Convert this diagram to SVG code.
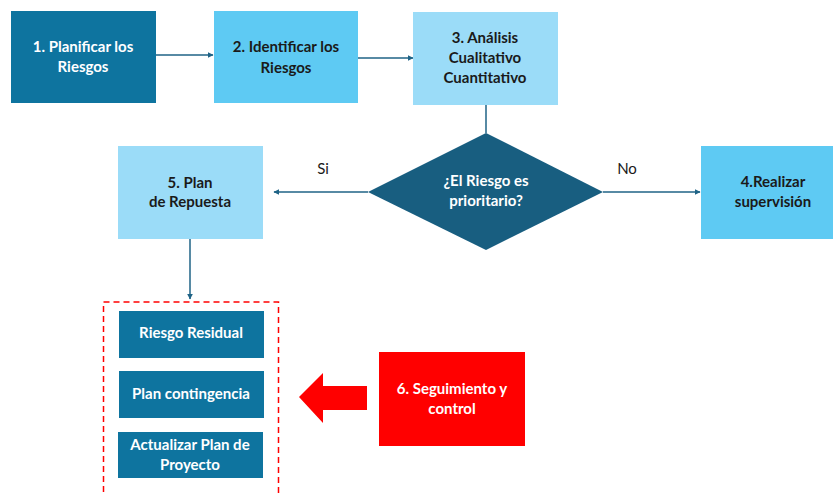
<svg xmlns="http://www.w3.org/2000/svg" width="833" height="496" viewBox="0 0 833 496">
  <style>
    .t { font-family: Lato, "Liberation Sans", sans-serif; font-weight: bold; font-size: 15px; text-anchor: middle; }
    .w { fill: #ffffff; }
    .d { fill: #1a1a1a; }
    .lbl { font-family: Lato, "Liberation Sans", sans-serif; font-size: 15px; fill: #1a1a1a; text-anchor: middle; }
    .dark { fill: #0e749f; }
    .mid { fill: #5ecaf3; }
    .light { fill: #9bdcf8; }
    .conn { stroke: #1f6386; stroke-width: 1.5; fill: none; }
  </style>
  <defs>
    <marker id="arr" viewBox="0 0 10 10" refX="9" refY="5" markerWidth="6" markerHeight="6" markerUnits="userSpaceOnUse" orient="auto">
      <path d="M0,0 L10,5 L0,10 z" fill="#1f6386"/>
    </marker>
  </defs>

  <rect width="833" height="496" fill="#ffffff"/>

  <g id="connectors">
    <line class="conn" x1="156" y1="55" x2="213" y2="55" marker-end="url(#arr)"/>
    <line class="conn" x1="358" y1="58" x2="413" y2="58" marker-end="url(#arr)"/>
    <line class="conn" x1="486" y1="105" x2="486" y2="133"/>
    <line class="conn" x1="368" y1="192" x2="274" y2="192" marker-end="url(#arr)"/>
    <line class="conn" x1="603" y1="192" x2="700" y2="192" marker-end="url(#arr)"/>
    <line class="conn" x1="190" y1="239" x2="190" y2="299" marker-end="url(#arr)"/>
    <text class="lbl" x="323" y="174">Si</text>
    <text class="lbl" x="627" y="174">No</text>
  </g>

  <g id="n1">
    <rect class="dark" x="11" y="11" width="145" height="92"/>
    <text class="t w" x="83" y="52">1. Planificar los</text>
    <text class="t w" x="83" y="72">Riesgos</text>
  </g>

  <g id="n2">
    <rect class="mid" x="214" y="11" width="144" height="92"/>
    <text class="t d" x="286" y="52">2. Identificar los</text>
    <text class="t d" x="286" y="73">Riesgos</text>
  </g>

  <g id="n3">
    <rect class="light" x="413" y="12" width="145" height="93"/>
    <text class="t d" x="485" y="43">3. Análisis</text>
    <text class="t d" x="485" y="63">Cualitativo</text>
    <text class="t d" x="485" y="83">Cuantitativo</text>
  </g>

  <g id="decision">
    <polygon points="486,133 603,192 486,250 368,192" fill="#185e80"/>
    <text class="t w" x="486" y="186">¿El Riesgo es</text>
    <text class="t w" x="486" y="206">prioritario?</text>
  </g>

  <g id="n5">
    <rect class="light" x="118" y="146" width="145" height="93"/>
    <text class="t d" x="190" y="188">5. Plan</text>
    <text class="t d" x="190" y="207">de Repuesta</text>
  </g>

  <g id="n4">
    <rect class="mid" x="701" y="146" width="132" height="93"/>
    <text class="t d" x="773" y="187">4.Realizar</text>
    <text class="t d" x="773" y="207">supervisión</text>
  </g>

  <g id="responses">
    <rect x="103.5" y="302" width="175" height="210" fill="none" stroke="#ff0000" stroke-width="1.5" stroke-dasharray="6,4"/>
    <g id="residual">
      <rect class="dark" x="119" y="311" width="145" height="47"/>
      <text class="t w" x="191" y="338">Riesgo Residual</text>
    </g>
    <g id="contingencia">
      <rect class="dark" x="119" y="371" width="145" height="47"/>
      <text class="t w" x="191" y="399">Plan contingencia</text>
    </g>
    <g id="actualizar">
      <rect class="dark" x="118" y="432" width="145" height="46"/>
      <text class="t w" x="190" y="450">Actualizar Plan de</text>
      <text class="t w" x="190" y="470">Proyecto</text>
    </g>
  </g>

  <g id="n6">
    <polygon points="299,397 323,373 323,386 367,386 367,410 323,410 323,423" fill="#ff0000"/>
    <rect x="379" y="352" width="146" height="94" fill="#ff0000"/>
    <text class="t w" x="452" y="394">6. Seguimiento y</text>
    <text class="t w" x="452" y="414">control</text>
  </g>
</svg>
